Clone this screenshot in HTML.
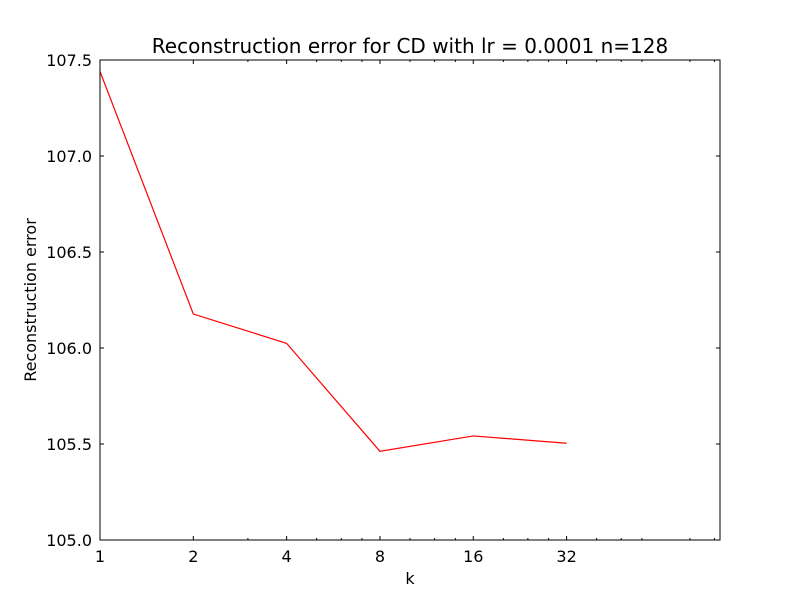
<!DOCTYPE html>
<html><head><meta charset="utf-8"><style>
body{margin:0;background:#fff;font-family:"DejaVu Sans","Liberation Sans",sans-serif}
</style></head><body>
<svg width="800" height="600" viewBox="0 0 800 600" xmlns="http://www.w3.org/2000/svg">
<rect width="800" height="600" fill="#fff"/>
<g id="g"></g>
</svg>
<script>
const categories=[1,2,4,8,16,32];
const errors=[107.44,106.177,106.024,105.462,105.542,105.504];
const yTicks=[105.0,105.5,106.0,106.5,107.0,107.5];
const xTicks=[1,2,4,8,16,32];
const xMinor=[3,5,6,7,10,12,14,20,24,28,40,48,56,80,96];
const L=100,R=720,T=60,B=540;
const xs=v=>L+(Math.log2(v)-0)/Math.log2(100)*(R-L);
const ys=v=>B-(v-105)/2.5*(B-T);
const g=document.getElementById('g');const NS='http://www.w3.org/2000/svg';
function el(t,a,name,txt){const e=document.createElementNS(NS,t);for(const k in a)e.setAttribute(k,a[k]);


if(txt!==undefined)e.textContent=txt;g.appendChild(e);return e;}
el('text',{x:410,y:53,'text-anchor':'middle','font-size':20},'chart-title','Reconstruction error for CD with lr = 0.0001 n=128');
yTicks.forEach(v=>{const y=ys(v);
el('line',{x1:L,x2:L+4,y1:y,y2:y,stroke:'#000'},'y-tick');
el('line',{x1:R,x2:R-4,y1:y,y2:y,stroke:'#000'},'y-tick-right');
el('text',{x:L-8,y:y+6,'text-anchor':'end','font-size':16},'y-tick-label',v.toFixed(1));});
xTicks.forEach(v=>{const x=xs(v);
el('line',{x1:x,x2:x,y1:B,y2:B-4,stroke:'#000'},'x-tick');
el('line',{x1:x,x2:x,y1:T,y2:T+4,stroke:'#000'},'x-tick-top');
el('text',{x:x,y:B+22,'text-anchor':'middle','font-size':16},'x-tick-label',String(v));});
xMinor.forEach(v=>{const x=xs(v);
el('line',{x1:x,x2:x,y1:B,y2:B-2,stroke:'#000'},'x-minor-tick');
el('line',{x1:x,x2:x,y1:T,y2:T+2,stroke:'#000'},'x-minor-tick-top');});
el('polyline',{points:categories.map((c,i)=>xs(c)+','+ys(errors[i])).join(' '),fill:'none',stroke:'#f00','stroke-width':1.2},'error-line');
el('rect',{x:L,y:T,width:R-L,height:B-T,fill:'none',stroke:'#000','stroke-width':1},'plot-frame');
el('text',{x:410,y:584,'text-anchor':'middle','font-size':16},'x-axis-title','k');
el('text',{x:36,y:300,'text-anchor':'middle','font-size':16,transform:'rotate(-90 36 300)'},'y-axis-title','Reconstruction error');
</script>
</body></html>
